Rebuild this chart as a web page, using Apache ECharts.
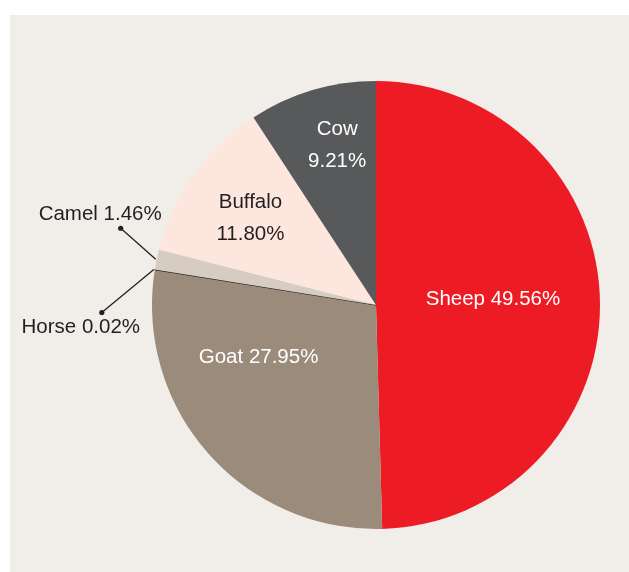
<!DOCTYPE html>
<html>
<head>
<meta charset="utf-8">
<script src="https://cdn.jsdelivr.net/npm/echarts@6/dist/echarts.min.js"></script>
<style>
  html, body { margin: 0; padding: 0; background: #fff; }
  #chart { width: 629px; height: 572px; }
</style>
</head>
<body>
<div id="chart"></div>
<script>
// data (clockwise from 12 o'clock)
const names = ['Sheep', 'Goat', 'Horse', 'Camel', 'Buffalo', 'Cow']
const shares = [49.56, 27.95, 0.02, 1.46, 11.80, 9.21]
const colors = ['#ed1c24', '#9b8b7b', '#231f20', '#d6ccc2', '#fde6dd', '#58595b']

// pie geometry (px)
const cx = 376, cy = 305, R = 224
const total = shares.reduce((a, b) => a + b, 0)
const startFrac = []
let acc = 0
shares.forEach(v => { startFrac.push(acc / total); acc += v })

function edgePoint(i, r) {
  const a = (startFrac[i] + shares[i] / total / 2) * Math.PI * 2
  return [cx + r * Math.sin(a), cy - r * Math.cos(a)]
}

// label nudges for the inside labels
const insideShift = { Sheep: [2, -4], Goat: [-31, -24], Buffalo: [-32, -20], Cow: [-6, -49] }
// callouts: dot offset from slice edge
const calloutDot = { Horse: [-52, 43], Camel: [-35, -31] }

const lineStart = {}, dotPos = {}
Object.keys(calloutDot).forEach(n => {
  const i = names.indexOf(n)
  const s = edgePoint(i, 225)
  lineStart[n] = s
  dotPos[n] = [s[0] + calloutDot[n][0], s[1] + calloutDot[n][1]]
})

const font = '"Liberation Sans", Helvetica, Arial, sans-serif'

let mycharts = echarts.init(document.getElementById('chart'))
mycharts.setOption({
  backgroundColor: '#ffffff',
  animation: false,
  graphic: [
    {
      type: 'rect', z: -10,
      shape: { x: 10, y: 15, width: 619, height: 557 },
      style: { fill: '#f1ede8' }
    },
    ...Object.keys(dotPos).map(n => ({
      type: 'circle', z: 100,
      shape: { cx: dotPos[n][0], cy: dotPos[n][1], r: 2.6 },
      style: { fill: '#231f20' }
    }))
  ],
  series: [
    {
      type: 'pie',
      center: [cx, cy],
      radius: R,
      startAngle: 90,
      clockwise: true,
      avoidLabelOverlap: false,
      data: names.map((n, i) => {
        const callout = n in calloutDot
        const item = {
          name: n,
          value: shares[i],
          itemStyle: { color: colors[i] },
          label: {
            show: true,
            position: callout ? 'outside' : 'inside',
            color: (callout || n === 'Buffalo') ? '#231f20' : '#ffffff'
          },
          labelLine: { show: callout, lineStyle: { color: '#231f20', width: 1.3 } }
        }
        if (n === 'Horse') {
          item.itemStyle.borderColor = '#231f20'
          item.itemStyle.borderWidth = 0.7
        }
        return item
      }),
      label: {
        fontFamily: font,
        fontSize: 20.5,
        lineHeight: 32,
        formatter: p => {
          const sep = (p.name === 'Cow' || p.name === 'Buffalo') ? '\n' : ' '
          return p.name + sep + p.value.toFixed(2) + '%'
        }
      },
      labelLayout: params => {
        const n = names[params.dataIndex]
        if (n in calloutDot) {
          const d = dotPos[n]
          const s = lineStart[n]
          if (n === 'Camel') {
            return { x: d[0] + 41, y: d[1] - 14, align: 'right', verticalAlign: 'middle',
              labelLinePoints: [s, d, d] }
          }
          return { x: d[0] - 21, y: d[1] + 15, align: 'center', verticalAlign: 'middle',
            labelLinePoints: [s, d, d] }
        }
        const sh = insideShift[n]
        return { dx: sh[0], dy: sh[1] }
      }
    }
  ]
})
</script>
</body>
</html>
